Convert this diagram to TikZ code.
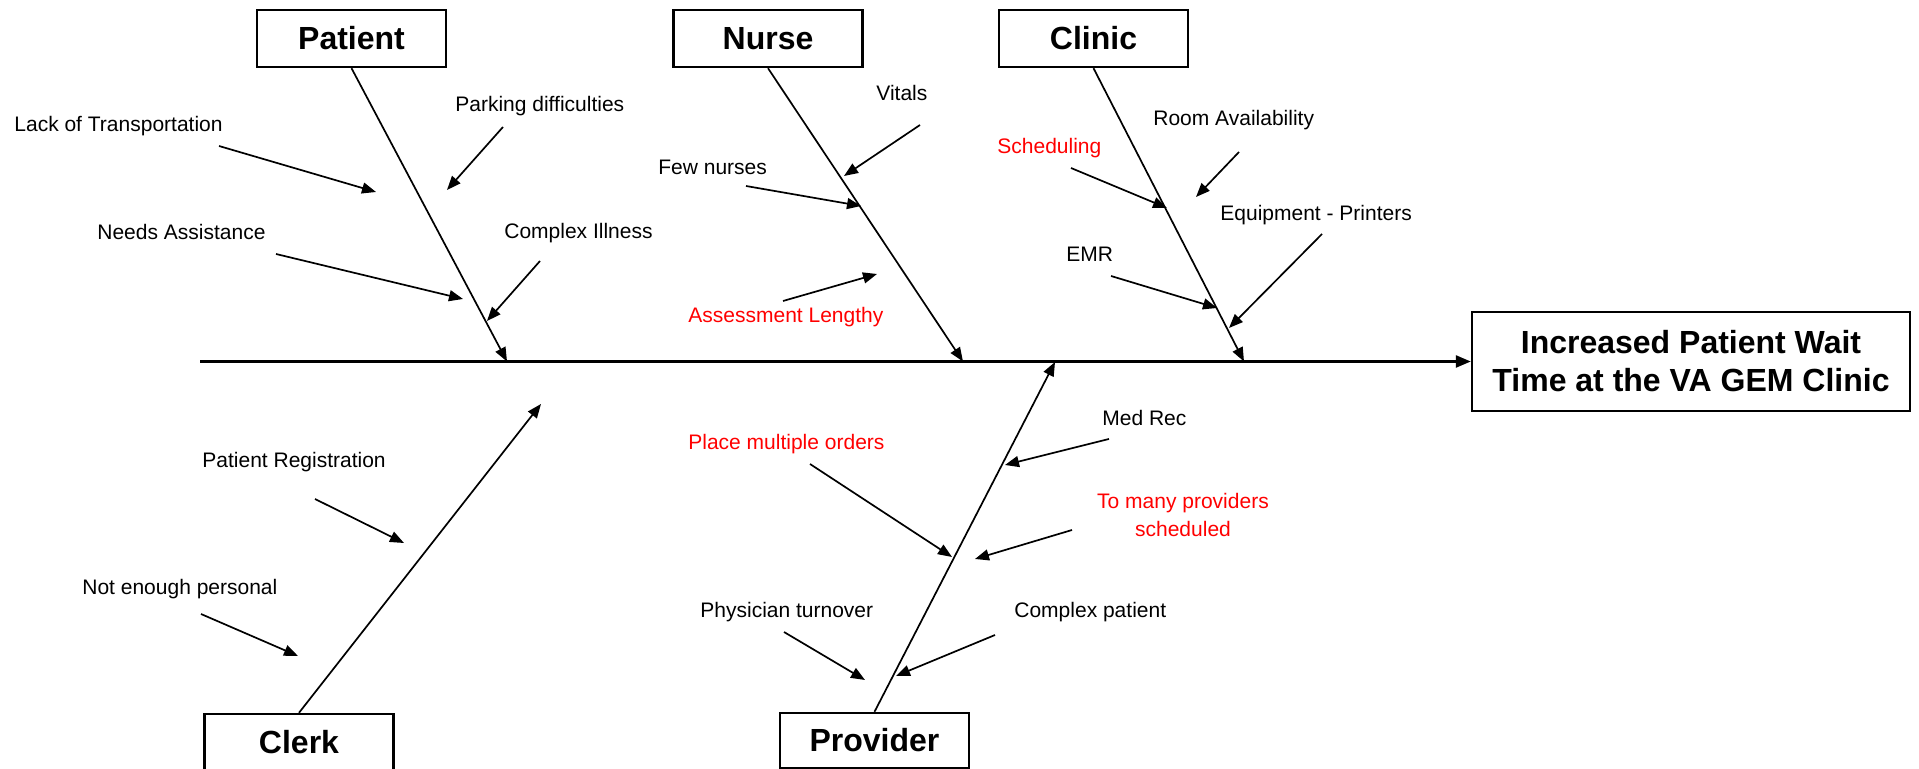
\documentclass[tikz,border=0pt]{standalone}
\usepackage{fontspec}
\setmainfont{Liberation Sans}
\usetikzlibrary{arrows.meta}

\begin{document}
\begin{tikzpicture}[x=0.5pt, y=-0.5pt,
    cat/.style={draw, line width=1.2pt, font=\bfseries\fontsize{16}{19}\selectfont,
      minimum width=94.5pt, minimum height=28.5pt, inner sep=0pt},
    cause/.style={font=\fontsize{10.5}{14}\selectfont, inner sep=0pt, anchor=west},
    hot/.style={cause, text=red},
    bone/.style={line width=0.85pt, -{Triangle[length=7pt,width=5.5pt]}},
    spine/.style={line width=1.25pt, -{Triangle[length=7.5pt,width=6pt]}}]
		\useasboundingbox (0,0) rectangle (1919,769);
		
		% categories and effect
		\node[cat] (patient) at (351.5,38.5) {Patient};
		\node[cat] (nurse) at (768,38.5) {Nurse};
		\node[cat] (clinic) at (1093.5,38.5) {Clinic};
		\node[cat] (clerk) at (299,742.5) {Clerk};
		\node[cat, minimum height=27.5pt] (provider) at (874.5,740.5) {Provider};
		\node[cat, minimum width=219pt, minimum height=49.5pt, align=center] (effect) at (1691,361.5)
			{Increased Patient Wait\\Time at the VA GEM Clinic};
		
		\coordinate (tail) at (200,361.5);
		\coordinate (pt) at (507,361.5);
		\coordinate (nt) at (963,361.5);
		\coordinate (ct) at (1244,361.5);
		\coordinate (kt) at (541,404);
		\coordinate (vt) at (1055,362);
		
		% causes
		\node[cause] (p1) at (14,126) {Lack of Transportation};
		\node[cause] (p2) at (455,106) {Parking difficulties};
		\node[cause] (p3) at (97,232) {Needs Assistance};
		\node[cause] (p4) at (504,233) {Complex Illness};
		\node[cause] (n1) at (876,93) {Vitals};
		\node[cause] (n2) at (658,167) {Few nurses};
		\node[hot] (n3) at (688,317) {Assessment Lengthy};
		\node[hot] (c1) at (997,148) {Scheduling};
		\node[cause] (c2) at (1153,120) {Room Availability};
		\node[cause] (c3) at (1220,215) {Equipment - Printers};
		\node[cause] (c4) at (1066,254) {EMR};
		\node[cause] (k1) at (202,462) {Patient Registration};
		\node[cause] (k2) at (82,589) {Not enough personal};
		\node[cause] (v1) at (1102,418) {Med Rec};
		\node[hot] (v2) at (688,444) {Place multiple orders};
		\node[hot, anchor=center, align=center] (v3) at (1183,515) {To many providers\\scheduled};
		\node[cause] (v4) at (700,612) {Physician turnover};
		\node[cause] (v5) at (1014,612) {Complex patient};
		
		% arrow ends
		\coordinate (p1a) at (219,146); \coordinate (p1b) at (376,192);
		\coordinate (p2a) at (503,127); \coordinate (p2b) at (447,190);
		\coordinate (p3a) at (276,254); \coordinate (p3b) at (463,299);
		\coordinate (p4a) at (540,261); \coordinate (p4b) at (487,321);
		\coordinate (n1a) at (920,125); \coordinate (n1b) at (844,176);
		\coordinate (n2a) at (746,186); \coordinate (n2b) at (861,206);
		\coordinate (n3a) at (783,301); \coordinate (n3b) at (877,274);
		\coordinate (c1a) at (1071,168); \coordinate (c1b) at (1167,208);
		\coordinate (c2a) at (1239,152); \coordinate (c2b) at (1196,197);
		\coordinate (c3a) at (1322,234); \coordinate (c3b) at (1229,328);
		\coordinate (c4a) at (1111,276); \coordinate (c4b) at (1217,308);
		\coordinate (k1a) at (315,499); \coordinate (k1b) at (404,543);
		\coordinate (k2a) at (201,614); \coordinate (k2b) at (298,656);
		\coordinate (v1a) at (1109,439); \coordinate (v1b) at (1005,465);
		\coordinate (v2a) at (810,464); \coordinate (v2b) at (952,557);
		\coordinate (v3a) at (1072,530); \coordinate (v3b) at (975,559);
		\coordinate (v4a) at (784,632); \coordinate (v4b) at (865,680);
		\coordinate (v5a) at (995,635); \coordinate (v5b) at (896,676);
		
		\draw[spine] (tail) -- (effect.west);
		\draw[bone] (patient.south) -- (pt);
		\draw[bone] (nurse.south) -- (nt);
		\draw[bone] (clinic.south) -- (ct);
		\draw[bone] (clerk.north) -- (kt);
		\draw[bone] (provider.north) -- (vt);
		\foreach \c in {p1,p2,p3,p4,n1,n2,n3,c1,c2,c3,c4,k1,k2,v1,v2,v3,v4,v5}
			\draw[bone] (\c a) -- (\c b);
		\end{tikzpicture}
\end{document}
